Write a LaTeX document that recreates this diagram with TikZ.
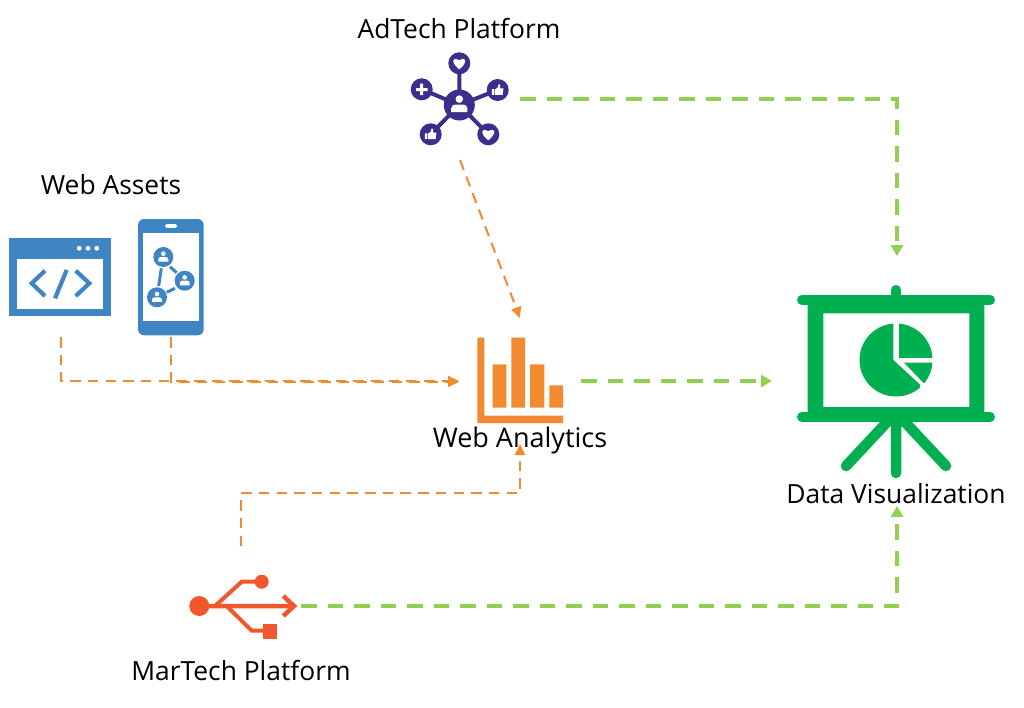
\documentclass[tikz,border=0pt]{standalone}
\usepackage{fontspec}
\setmainfont{Open Sans}
\usetikzlibrary{arrows.meta}
\definecolor{adblue}{HTML}{3B2E8C}
\definecolor{webblue}{HTML}{3F85C4}
\definecolor{orangeA}{HTML}{F28A30}
\definecolor{usbred}{HTML}{F1572B}
\definecolor{dvgreen}{HTML}{00B050}
\definecolor{lineG}{HTML}{92D050}
\tikzset{
  icon/.style={inner sep=0pt,outer sep=0pt,minimum width=#1},
  label/.style={font=\fontsize{26.4}{30}\selectfont,text=black,inner sep=0pt},
  thinflow/.style={draw=orangeA,line width=2pt,dash pattern=on 10.5pt off 7.2pt,-{Triangle[length=11pt,width=10pt]}},
  thickflow/.style={draw=lineG,line width=3.9pt,dash pattern=on 15.5pt off 11pt,-{Triangle[length=11pt,width=12pt]}},
}
\newcommand{\iconheart}[2]{\fill[white,shift={(#1,#2)}] (0,6) .. controls (-9,-1) and (-7,-7.5) .. (0,-3) .. controls (7,-7.5) and (9,-1) .. (0,6) -- cycle;}
\newcommand{\iconthumb}[2]{\fill[white,shift={(#1,#2)},scale=0.82] (-7,-1) rectangle (-4,6) (-3,-1) -- (0,-3) -- (1,-7) -- (3,-6.5) -- (3,-2) -- (7,-2) -- (6,6) -- (-3,6) -- cycle;}
\newcommand{\iconperson}[3]{\fill[white,shift={(#1,#2)},scale=#3] (0,-6) circle (4.2) (-9,8.5) -- (-9,4) .. controls (-9,1) and (-6,0) .. (-4,0) -- (4,0) .. controls (6,0) and (9,1) .. (9,4) -- (9,8.5) -- cycle;}
\begin{document}
\begin{tikzpicture}[x=1pt,y=-1pt]
\useasboundingbox (0,0) rectangle (1024,707);
\fill[white] (0,0) rectangle (1024,707);

% anchor nodes of the icons
\node[icon=120pt,minimum height=122pt] (adtech) at (460,99) {};
\node[icon=102pt,minimum height=120pt] (window) at (61,277) {};
\node[icon=70pt,minimum height=120pt] (phone) at (171,277) {};
\node[icon=122pt,minimum height=126pt] (analytics) at (520,381) {};
\node[icon=250pt,minimum height=250pt] (dataviz) at (897,381) {};
\node[icon=120pt,minimum height=120pt] (martech) at (241,606) {};

% labels
\node[label] (adtechlabel) at (459,29) {AdTech Platform};
\node[label] (weblabel) at (111,185) {Web Assets};
\node[label,font=\fontsize{27}{30}\selectfont] (analyticslabel) at (520,440) {Web Analytics};
\node[label] (datavizlabel) at (896,494) {Data Visualization};
\node[label] (martechlabel) at (241,671) {MarTech Platform};

% AdTech icon
\begin{scope}[draw=adblue,fill=adblue]
  \draw[line width=4pt] (459.3,105) -- (459.3,63.3) (459.3,105) -- (497.7,90) (459.3,105) -- (421.7,89.3) (459.3,105) -- (430.7,134.3) (459.3,105) -- (488.3,134.3);
  \fill (459.3,105) circle (15.5);
  \foreach \p in {(459.3,63.3),(497.7,90),(421.7,89.3),(430.7,134.3),(488.3,134.3)} \fill \p circle (11);
\end{scope}
\iconperson{459.3}{104.5}{0.9}
\iconheart{459.3}{63.3}
\iconheart{488.3}{134.3}
\iconthumb{497.7}{90}
\iconthumb{430.7}{134.3}
\fill[white] (416,88) rectangle (427.5,91) (420.2,83.7) rectangle (423.2,95);

% Window icon
\fill[webblue] (9.3,238.3) rectangle (111.3,316);
\fill[white] (17.3,258.7) rectangle (103.3,308.7);
\foreach \x in {79.3,88,96.7} \fill[white] (\x,248.3) circle (2.4);
\draw[webblue,line width=4.2pt] (45,270.7) -- (31.7,283.3) -- (45,296) (75.7,270.7) -- (89.3,283.3) -- (75.7,296) (66.7,270) -- (55,298.3);

% Phone icon
\fill[webblue,rounded corners=6pt] (138,219) rectangle (203.7,335.3);
\fill[white] (143.3,232.7) rectangle (198.7,321.3);
\fill[white,rounded corners=1.7pt] (165,224.2) rectangle (177.3,227.8);
\draw[webblue,line width=3pt] (170,266.7) -- (176.7,272.7) (161.3,268.3) -- (158.7,286) (175,288.3) -- (166.7,292.3);
\foreach \p/\q in {163.3/257,184.7/280.7,157/297.3} {
  \fill[webblue] (\p,\q) circle (10);
  \iconperson{\p}{\q}{0.55}
}

% Analytics icon
\fill[orangeA] (477.3,337.7) -- (484.3,337.7) -- (484.3,415.7) -- (563,415.7) -- (563,423) -- (477.3,423) -- cycle;
\fill[orangeA] (492.7,364.3) rectangle (506.3,407.7) (511.3,337.7) rectangle (525,407.7) (530,364.3) rectangle (544.3,407.7) (549.3,385.3) rectangle (563,407.7);

% Data visualization icon
\fill[dvgreen,even odd rule] (807.7,300) rectangle (984.3,417) (823.3,313.3) rectangle (969.3,407);
\draw[dvgreen,line width=10pt,line cap=round] (802,300) -- (990,300) (802,417) -- (990,417) (896,290) -- (896,300);
\draw[dvgreen,line width=10.5pt,line cap=round] (896,420) -- (896,473) (889,420) -- (846,466) (903,420) -- (946,466);
\begin{scope}
  \clip (896,360) circle (36.5);
  \fill[dvgreen] (893.3,360) -- (893.3,320) -- (850,320) -- (850,400) -- (920,400) -- (920,384.5) -- cycle;
  \fill[dvgreen] (899,357.7) rectangle (940,320);
  \fill[dvgreen] (904,362.7) -- (940,362.7) -- (940,400) -- cycle;
\end{scope}

% USB icon
\draw[usbred,line width=4.5pt] (199.3,606) -- (293,606) (283.3,596) -- (294,606) -- (283.3,616);
\draw[usbred,line width=4pt] (215,606) -- (241.7,581.7) -- (261.7,581.7) (226.7,606) -- (251.7,630.7) -- (270,630.7);
\fill[usbred] (199.3,606) circle (10) (261.7,581.7) circle (7);
\fill[usbred] (262.7,623.7) rectangle (277.3,639);

% connectors
\draw[thinflow] (window.south) |- (analytics.west);
\draw[thinflow] (phone.south) |- ([yshift=-0.9pt]analytics.west);
\draw[thinflow] (adtech.south) -- (analytics.north);
\draw[thinflow] (martech.north) |- ([yshift=-49pt]analytics.south) -- (analytics.south);
\draw[thickflow] (adtech.east) -| (dataviz.north);
\draw[thickflow] (analytics.east) -- (dataviz.west);
\draw[thickflow] (martech.east) -| (dataviz.south);
\end{tikzpicture}
\end{document}
